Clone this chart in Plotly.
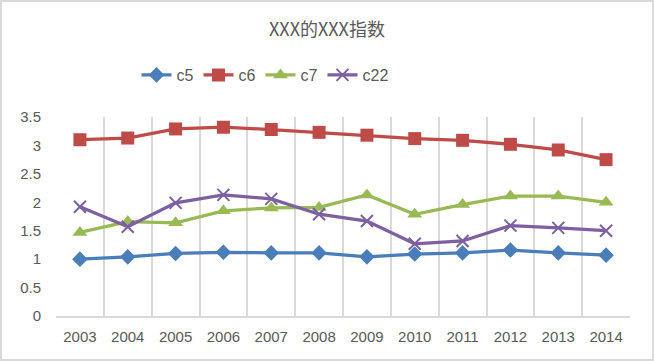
import plotly.graph_objects as go

years = ["2003", "2004", "2005", "2006", "2007", "2008", "2009", "2010", "2011", "2012", "2013", "2014"]
c5 = [1.00, 1.04, 1.10, 1.12, 1.11, 1.11, 1.04, 1.09, 1.11, 1.16, 1.11, 1.07]
c6 = [3.10, 3.13, 3.29, 3.32, 3.28, 3.23, 3.18, 3.12, 3.09, 3.02, 2.92, 2.75]
c7 = [1.47, 1.66, 1.64, 1.85, 1.90, 1.91, 2.13, 1.79, 1.96, 2.11, 2.11, 2.00]
c22 = [1.92, 1.57, 1.99, 2.13, 2.06, 1.79, 1.67, 1.27, 1.32, 1.59, 1.55, 1.50]
y_ticks = [0, 0.5, 1, 1.5, 2, 2.5, 3, 3.5]

W, H = 654, 361
ML, MR, MT, MB = 56, 24, 117, 45
PW, PH = W - ML - MR, H - MT - MB

series = [
    ("c5", c5, "#4A7EBB", "diamond", 12),
    ("c6", c6, "#BE4B48", "square", 13),
    ("c7", c7, "#98B954", "triangle-up", 13),
    ("c22", c22, "#7D60A0", "x-thin", 12),
]

fig = go.Figure()
for name, vals, col, sym, sz in series:
    fig.add_trace(go.Scatter(
        x=years, y=vals, name=name, mode="lines+markers",
        line=dict(color=col, width=3.25),
        marker=dict(symbol=sym, size=sz, color=col,
                    line=dict(color=col, width=2 if sym == "x-thin" else 0)),
    ))

fig.update_layout(
    width=W, height=H,
    margin=dict(l=ML, r=MR, t=MT, b=MB),
    paper_bgcolor="white", plot_bgcolor="white",
    font=dict(family="Liberation Sans Narrow, Liberation Sans, sans-serif", color="#595959", size=14),
    title=dict(text="XXX的XXX指数", x=0.5, xanchor="center", y=1 - 30 / H, yanchor="middle",
               font=dict(family="Noto Sans CJK SC", size=18, color="#595959")),
    legend=dict(orientation="h", x=(265 - ML) / PW, xanchor="center", y=1 + (MT - 75) / PH, yanchor="middle",
                font=dict(size=16, color="#595959"), itemwidth=30, tracegroupgap=0),
    showlegend=True,
    xaxis=dict(type="category", range=[-0.5, 11.5], tickson="boundaries", showgrid=True,
               gridcolor="#D9D9D9", gridwidth=1.5, showline=True, linecolor="#D9D9D9", linewidth=1.5,
               ticks="", tickfont=dict(size=15, color="#595959"), ticklabelstandoff=6),
    yaxis=dict(range=[0, 3.5], tickvals=y_ticks, ticktext=[f"{v:g}" for v in y_ticks],
               showgrid=False, zeroline=False, showline=False, ticks="",
               tickfont=dict(size=15, color="#595959"), ticklabelstandoff=14),
    shapes=[dict(type="rect", xref="paper", yref="paper",
                 x0=-(ML - 1) / PW, x1=1 + (MR - 1) / PW, y0=-(MB - 1) / PH, y1=1 + (MT - 1) / PH,
                 line=dict(color="#D9D9D9", width=2), fillcolor="rgba(0,0,0,0)", layer="below")],
)

fig.write_html("out.html", config={"displayModeBar": False},
               post_script="document.body.style.margin='0';document.body.style.overflow='hidden';")
